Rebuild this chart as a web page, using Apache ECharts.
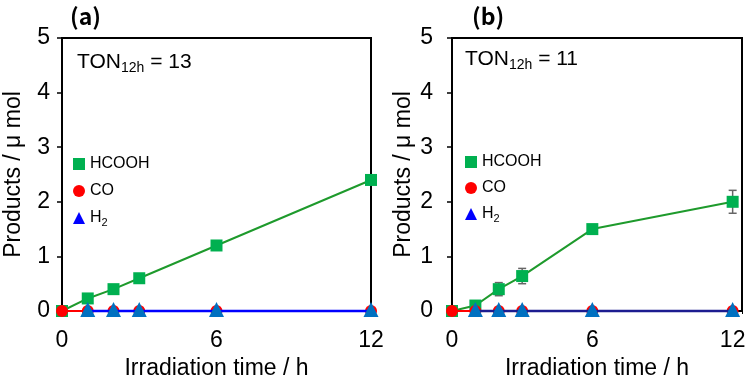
<!DOCTYPE html>
<html>
<head>
<meta charset="utf-8">
<script src="https://cdn.jsdelivr.net/npm/echarts@6/dist/echarts.min.js"></script>
<style>
  html, body { margin: 0; padding: 0; background: #fff; }
  #chart { width: 747px; height: 375px; }
</style>
</head>
<body>
<div id="chart"></div>
<script>
// 照射时间 (h)
const timeAll = [0, 1, 2, 3, 6, 12];
const timeH2 = [1, 2, 3, 6, 12];

// (a)
const hcoohA = [0, 0.23, 0.4, 0.6, 1.2, 2.4];
const coA = [0, 0, 0, 0, 0, 0];
const h2A = [0, 0, 0, 0, 0];

// (b)
const hcoohB = [0, 0.1, 0.4, 0.64, 1.5, 2.0];
const hcoohErrB = [0, 0, 0.12, 0.14, 0, 0.21];
const coB = [0, 0, 0, 0, 0, 0];
const h2B = [0, 0, 0, 0, 0];

const tonA = 13;
const tonB = 11;

const FONT = "'Liberation Sans', Arial, sans-serif";
const GREEN = "#00b050";
const GREEN_LINE = "#1e9a2c";
const RED = "#ff0000";
const TRI = "#0070c0";

function pairs (xs, ys) {
  return xs.map((x, i) => [x, ys[i]]);
}

function xAxisOf (gridIndex, max) {
  return {
    type: "value",
    gridIndex: gridIndex,
    min: 0,
    max: max,
    interval: 6,
    name: "Irradiation time / h",
    nameLocation: "middle",
    nameGap: 41,
    nameTextStyle: { fontFamily: FONT, fontSize: 23, color: "#000" },
    axisLine: { show: true, onZero: false, lineStyle: { color: "#000", width: 2 } },
    axisTick: { show: true, length: 3, lineStyle: { color: "#000", width: 1 } },
    axisLabel: {
      margin: 18,
      fontFamily: FONT,
      fontSize: 23,
      color: "#000",
      formatter: (v) => (v % 6 === 0 ? String(v) : ""),
    },
    splitLine: { show: false },
  };
}

function yAxisOf (gridIndex, labelMargin) {
  return {
    type: "value",
    gridIndex: gridIndex,
    min: 0,
    max: 5,
    interval: 1,
    name: "Products / μ mol",
    nameLocation: "middle",
    nameGap: 37,
    nameTextStyle: { fontFamily: FONT, fontSize: 23, color: "#000" },
    axisLine: { show: true, lineStyle: { color: "#000", width: 2 } },
    axisTick: { show: true, length: 5, lineStyle: { color: "#000", width: 1.5 } },
    axisLabel: { margin: labelMargin, fontFamily: FONT, fontSize: 23, color: "#000" },
    splitLine: { show: false },
  };
}

function seriesOf (idx, hcooh, co, h2, h2Line) {
  return [
    {
      name: "HCOOH",
      type: "line",
      xAxisIndex: idx,
      yAxisIndex: idx,
      data: pairs(timeAll, hcooh),
      symbol: "rect",
      symbolSize: 12,
      clip: false,
      itemStyle: { color: GREEN },
      lineStyle: { color: GREEN_LINE, width: 2 },
      z: 3,
    },
    {
      name: "CO",
      type: "line",
      xAxisIndex: idx,
      yAxisIndex: idx,
      data: pairs(timeAll, co),
      symbol: "circle",
      symbolSize: 12,
      clip: false,
      itemStyle: { color: RED },
      lineStyle: { color: RED, width: 2 },
      z: 4,
    },
    {
      name: "H2",
      type: "line",
      xAxisIndex: idx,
      yAxisIndex: idx,
      data: pairs(timeH2, h2),
      symbol: "triangle",
      symbolSize: 15,
      symbolOffset: [0, -1.5],
      clip: false,
      itemStyle: { color: TRI },
      lineStyle: { color: h2Line, width: 2.5 },
      z: 6,
    },
  ];
}

function legendOf (left, top, gap) {
  return {
    orient: "vertical",
    left: left,
    top: top,
    padding: 0,
    itemWidth: 12,
    itemHeight: 12,
    itemGap: gap,
    selectedMode: false,
    data: [
      { name: "HCOOH", icon: "rect", itemStyle: { color: GREEN } },
      { name: "CO", icon: "circle", itemStyle: { color: RED } },
      { name: "H2", icon: "triangle", itemStyle: { color: "#0000ff" } },
    ],
    formatter: (n) => (n === "H2" ? "H{s|2}" : n),
    textStyle: {
      fontFamily: FONT,
      fontSize: 16,
      color: "#000",
      rich: { s: { fontFamily: FONT, fontSize: 11, padding: [10, 0, 0, 0] } },
    },
  };
}

function tonTitle (left, top, ton) {
  return {
    left: left,
    top: top,
    text: "TON{s|12h} = " + ton,
    textStyle: {
      fontFamily: FONT,
      fontSize: 21,
      fontWeight: "normal",
      color: "#000",
      rich: { s: { fontFamily: FONT, fontSize: 14, padding: [12, 0, 0, 0] } },
    },
  };
}

let chart = echarts.init(document.getElementById("chart"));

chart.setOption({
  animation: false,
  backgroundColor: "#fff",
  title: [
    {
      left: 65, top: 0, text: "(a)",
      textStyle: { fontFamily: "'Noto Sans CJK JP', sans-serif", fontSize: 23, fontWeight: "bold", color: "#000" },
    },
    {
      left: 467, top: 0, text: "(b)",
      textStyle: { fontFamily: "'Noto Sans CJK JP', sans-serif", fontSize: 23, fontWeight: "bold", color: "#000" },
    },
    tonTitle(72, 44, tonA),
    tonTitle(460, 41, tonB),
  ],
  legend: [legendOf(73, 156, 11), legendOf(465, 154, 10)],
  grid: [
    { left: 62, top: 38, width: 309, height: 273, outerBoundsMode: "none", show: true, borderColor: "#000", borderWidth: 2 },
    { left: 452, top: 38, width: 290, height: 273, outerBoundsMode: "none", show: true, borderColor: "#000", borderWidth: 2 },
  ],
  xAxis: [xAxisOf(0, 12), xAxisOf(1, 12.4)],
  yAxis: [yAxisOf(0, 12), yAxisOf(1, 19)],
  series: [
    ...seriesOf(0, hcoohA, coA, h2A, "#0000ff"),
    ...seriesOf(1, hcoohB, coB, h2B, "#1c1c90"),
    {
      // 误差棒
      type: "custom",
      xAxisIndex: 1,
      yAxisIndex: 1,
      z: 2,
      silent: true,
      data: timeAll.map((x, i) => [x, hcoohB[i] - hcoohErrB[i], hcoohB[i] + hcoohErrB[i]]),
      renderItem: function (params, api) {
        let lo = api.coord([api.value(0), api.value(1)]);
        let hi = api.coord([api.value(0), api.value(2)]);
        let w = 4;
        let style = { stroke: "#666", lineWidth: 1.5 };
        return {
          type: "group",
          children: [
            { type: "line", shape: { x1: lo[0], y1: lo[1], x2: hi[0], y2: hi[1] }, style: style },
            { type: "line", shape: { x1: lo[0] - w, y1: lo[1], x2: lo[0] + w, y2: lo[1] }, style: style },
            { type: "line", shape: { x1: hi[0] - w, y1: hi[1], x2: hi[0] + w, y2: hi[1] }, style: style },
          ],
        };
      },
    },
  ],
});
</script>
</body>
</html>
